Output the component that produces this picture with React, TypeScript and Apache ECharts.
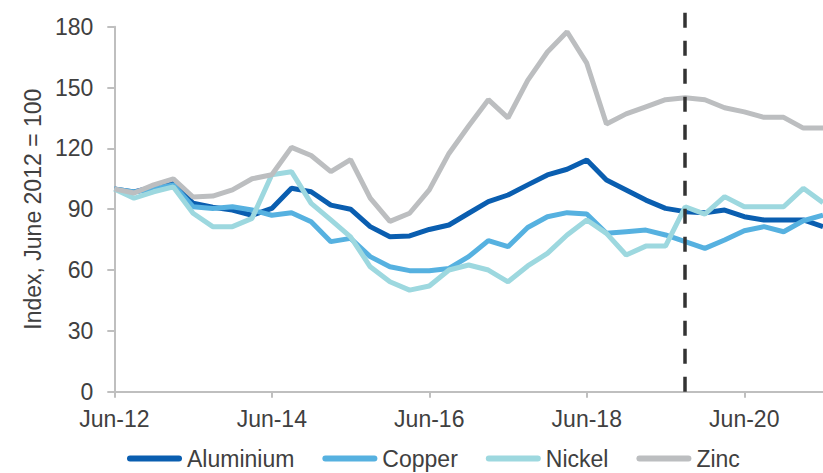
import React, { useEffect, useRef } from 'react';
import * as echarts from 'echarts';

const categories = [
  'Jun-12', 'Sep-12', 'Dec-12', 'Mar-13', 'Jun-13', 'Sep-13', 'Dec-13', 'Mar-14',
  'Jun-14', 'Sep-14', 'Dec-14', 'Mar-15', 'Jun-15', 'Sep-15', 'Dec-15', 'Mar-16',
  'Jun-16', 'Sep-16', 'Dec-16', 'Mar-17', 'Jun-17', 'Sep-17', 'Dec-17', 'Mar-18',
  'Jun-18', 'Sep-18', 'Dec-18', 'Mar-19', 'Jun-19', 'Sep-19', 'Dec-19', 'Mar-20',
  'Jun-20', 'Sep-20', 'Dec-20', 'Mar-21', 'Jun-21',
];

const aluminium = [
  100, 98.5, 101, 103, 93, 91, 89.6, 87, 90.4, 100.3, 98.6, 92, 90, 81.4, 76.4, 76.8,
  80, 82.2, 88, 93.7, 97, 102, 106.9, 109.7, 114.3, 104.4, 99.5, 94.5, 90.4, 88.8,
  88.3, 89.6, 86.3, 84.7, 84.7, 84.7, 81.4,
];

const copper = [
  100, 98.5, 100, 102, 91.2, 90.4, 91.2, 89.6, 87, 88.3, 83.8, 74, 75.6, 66.6, 61.6,
  59.7, 59.7, 60.8, 66.6, 74.5, 71.5, 81, 86.3, 88.3, 87.6, 78.1, 78.9, 79.7, 77.3,
  74, 70.7, 74.8, 79.4, 81.4, 78.9, 84.3, 87.1,
];

const nickel = [
  100, 95.4, 98.6, 101, 88, 81.4, 81.4, 85.5, 107, 108.5, 92.9, 84.7, 76.4, 61.6,
  54.2, 50.1, 52.1, 60, 62.5, 60, 54.2, 62, 68.2, 77.3, 84.7, 78.1, 67.4, 71.8, 71.8,
  91.2, 87.6, 96.2, 91.2, 91.2, 91.2, 100.3, 93.2,
];

const zinc = [
  100, 98, 102, 105, 96, 96.5, 99.5, 105, 107, 120.5, 116.5, 108.5, 114.5, 95.5, 84,
  88, 99.5, 117.5, 131, 144, 135, 153.5, 167.5, 177.5, 162, 132, 137, 140.5, 144,
  145, 144, 140, 138, 135.3, 135.3, 130, 130,
];

const seriesNames = ['Aluminium', 'Copper', 'Nickel', 'Zinc'];
const seriesColors = ['#0A5EB0', '#56B1E0', '#9DD8DF', '#BCBEC0'];
const seriesValues = [aluminium, copper, nickel, zinc];
const dividerCategory = 'Sep-19';
const yAxisName = 'Index, June 2012 = 100';

const FONT = '"Liberation Sans", Arial, sans-serif';
const TEXT = '#404040';
const AXIS = '#BFBFBF';

export default function App() {
  const ref = useRef<HTMLDivElement>(null);

  useEffect(() => {
    if (!ref.current) return;
    const chart = echarts.init(ref.current, null, { renderer: 'svg' });

    const lineSeries = seriesNames.map((name, i) => ({
      name,
      type: 'line',
      xAxisIndex: 0,
      yAxisIndex: 0,
      data: seriesValues[i],
      showSymbol: false,
      symbol: 'none',
      color: seriesColors[i],
      lineStyle: { width: 5, color: seriesColors[i] },
    }));

    const option: any = {
      animation: false,
      textStyle: { fontFamily: FONT },
      legend: {
        data: seriesNames,
        left: 122,
        top: 442,
        itemWidth: 55,
        itemHeight: 6,
        itemGap: 28,
        icon: 'path://M3,0H52A3,3,0,0,1,52,6H3A3,3,0,0,1,3,0Z',
        textStyle: { fontSize: 23, color: TEXT, fontFamily: FONT },
      },
      grid: [
        { left: 114.3, right: 0, top: 26.7, bottom: 81.3 },
        { left: 114.3, right: 0, top: 10, bottom: 81.3 },
      ],
      xAxis: [
        {
          type: 'category',
          gridIndex: 0,
          data: categories,
          boundaryGap: false,
          axisLine: { show: true, lineStyle: { color: AXIS, width: 2 } },
          axisTick: { show: true, interval: 7, length: 6, lineStyle: { color: AXIS, width: 2 } },
          axisLabel: { interval: 7, fontSize: 23, color: TEXT, margin: 16, fontFamily: FONT },
          splitLine: { show: false },
        },
        {
          type: 'category',
          gridIndex: 1,
          data: categories,
          boundaryGap: false,
          show: false,
        },
      ],
      yAxis: [
        {
          type: 'value',
          gridIndex: 0,
          min: 0,
          max: 180,
          interval: 30,
          name: yAxisName,
          nameLocation: 'middle',
          nameGap: 70,
          nameTextStyle: { fontSize: 23, color: TEXT, fontFamily: FONT },
          axisLine: { show: true, lineStyle: { color: AXIS, width: 2 } },
          axisTick: { show: true, length: 7, lineStyle: { color: AXIS, width: 2 } },
          axisLabel: { fontSize: 23, color: TEXT, margin: 21, fontFamily: FONT },
          splitLine: { show: false },
        },
        {
          type: 'value',
          gridIndex: 1,
          min: 0,
          max: 1,
          show: false,
        },
      ],
      series: [
        ...lineSeries,
        {
          name: 'divider',
          type: 'line',
          xAxisIndex: 1,
          yAxisIndex: 1,
          data: [],
          silent: true,
          markLine: {
            silent: true,
            symbol: ['none', 'none'],
            label: { show: false },
            lineStyle: { color: '#333333', width: 3.5, type: [15, 13] },
            data: [{ xAxis: dividerCategory }],
          },
        },
      ],
    };

    chart.setOption(option);
    return () => chart.dispose();
  }, []);

  return (
    <div
      ref={ref}
      style={{ position: 'absolute', left: 0, top: 0, width: 823, height: 473 }}
    />
  );
}
